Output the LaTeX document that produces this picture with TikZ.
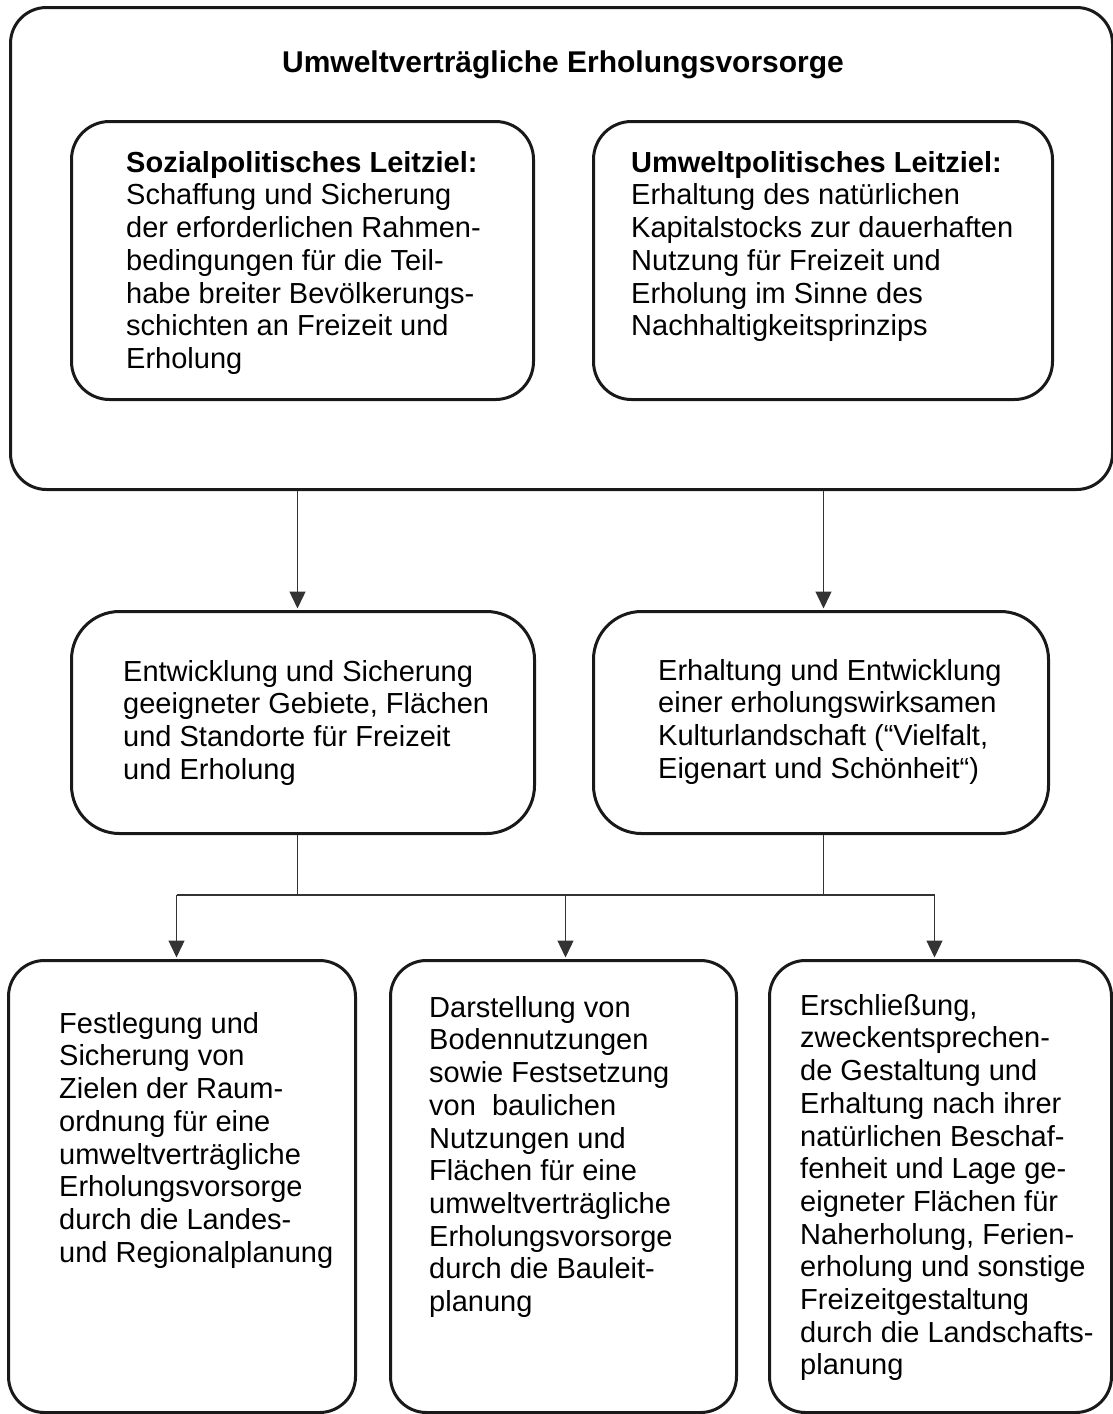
\documentclass[tikz,border=0pt]{standalone}
\usepackage{fontspec}
\setmainfont{Liberation Sans}
\usetikzlibrary{arrows.meta}
\begin{document}
\begin{tikzpicture}[x=1pt,y=-1pt,
  boxbase/.style={draw=black!90, line width=3pt, inner sep=0pt, anchor=north west},
  txt/.style={anchor=north west, inner sep=0pt, align=left, font=\fontsize{29}{32.7}\selectfont},
  conn/.style={draw=black!80, line width=1.3pt},
  arr/.style={conn, -{Triangle[length=17pt,width=16pt]}, shorten >=1.5pt}
]
\useasboundingbox (0,0) rectangle (1112,1414);

% boxes
\node[boxbase, rounded corners=36pt, minimum width=1102pt, minimum height=482pt] (outer) at (9,6) {};
\node[boxbase, rounded corners=38pt, minimum width=462pt, minimum height=278pt] (soz) at (70,120) {};
\node[boxbase, rounded corners=38pt, minimum width=459pt, minimum height=278pt] (umw) at (592,120) {};
\node[boxbase, rounded corners=48pt, minimum width=463pt, minimum height=222pt] (midL) at (70,610) {};
\node[boxbase, rounded corners=48pt, minimum width=455pt, minimum height=222pt] (midR) at (592,610) {};
\node[boxbase, rounded corners=36pt, minimum width=347pt, minimum height=452pt] (botL) at (7,959) {};
\node[boxbase, rounded corners=36pt, minimum width=346pt, minimum height=452pt] (botM) at (389,959) {};
\node[boxbase, rounded corners=36pt, minimum width=342pt, minimum height=452pt] (botR) at (768,959) {};

% texts
\node[anchor=base, inner sep=0pt, font=\bfseries\fontsize{30}{33}\selectfont] (title) at (563,72) {Umweltverträgliche Erholungsvorsorge};

\node[txt] (tsoz) at (126,150) {\rule{0pt}{22pt}\textbf{Sozialpolitisches Leitziel:}\\Schaffung und Sicherung\\der erforderlichen Rahmen-\\bedingungen für die Teil-\\habe breiter Bevölkerungs-\\schichten an Freizeit und\\Erholung};

\node[txt] (tumw) at (631,150) {\rule{0pt}{22pt}\textbf{Umweltpolitisches Leitziel:}\\Erhaltung des natürlichen\\Kapitalstocks zur dauerhaften\\Nutzung für Freizeit und\\Erholung im Sinne des\\Nachhaltigkeitsprinzips};

\node[txt] (tmidL) at (123,659) {\rule{0pt}{22pt}Entwicklung und Sicherung\\geeigneter Gebiete, Flächen\\und Standorte für Freizeit\\und Erholung};

\node[txt] (tmidR) at (658,658) {\rule{0pt}{22pt}Erhaltung und Entwicklung\\einer erholungswirksamen\\Kulturlandschaft (“Vielfalt,\\Eigenart und Schönheit“)};

\node[txt] (tbotL) at (59,1011) {\rule{0pt}{22pt}Festlegung und\\Sicherung von\\Zielen der Raum-\\ordnung für eine\\umweltverträgliche\\Erholungsvorsorge\\durch die Landes-\\und Regionalplanung};

\node[txt] (tbotM) at (429,995) {\rule{0pt}{22pt}Darstellung von\\Bodennutzungen\\sowie Festsetzung\\von~ baulichen\\Nutzungen und\\Flächen für eine\\umweltverträgliche\\Erholungsvorsorge\\durch die Bauleit-\\planung};

\node[txt] (tbotR) at (800,993) {\rule{0pt}{22pt}Erschließung,\\zweckentsprechen-\\de Gestaltung und\\Erhaltung nach ihrer\\natürlichen Beschaf-\\fenheit und Lage ge-\\eigneter Flächen für\\Naherholung, Ferien-\\erholung und sonstige\\Freizeitgestaltung\\durch die Landschafts-\\planung};

% connectors
\coordinate (aL) at ([xshift=-5.5pt]midL.north);
\coordinate (aR) at ([xshift=2.5pt]midR.north);
\coordinate (bL) at ([xshift=-5.5pt]botL.north);
\coordinate (bM) at ([xshift=2pt]botM.north);
\coordinate (bR) at ([xshift=-6pt]botR.north);
\coordinate (busy) at (0,895);

\draw[arr] (outer.south -| aL) -- (aL);
\draw[arr] (outer.south -| aR) -- (aR);
\draw[conn] (midL.south -| aL) -- (aL |- busy);
\draw[conn] (midR.south -| aR) -- (aR |- busy);
\draw[conn] (bL |- busy) -- (bR |- busy);
\draw[arr] (bL |- busy) -- (bL);
\draw[arr] (bM |- busy) -- (bM);
\draw[arr] (bR |- busy) -- (bR);
\end{tikzpicture}
\end{document}
